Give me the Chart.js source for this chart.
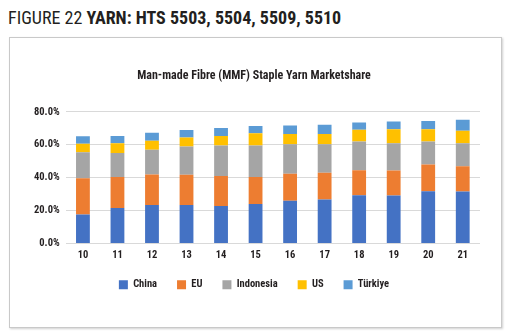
<!DOCTYPE html>
<html>
<head>
<meta charset="utf-8">
<script src="https://cdn.jsdelivr.net/npm/chart.js@4"></script>
<style>
  body { margin: 0; background: #fff; width: 509px; height: 335px; overflow: hidden; }
  #heading {
    position: absolute; left: 8px; top: 7px;
    font-family: "Roboto Condensed", sans-serif;
    font-size: 18px; color: #231f20; white-space: nowrap;
  }
  #heading b { font-weight: bold; }
  #box {
    position: absolute; left: 9px; top: 37px; width: 491px; height: 289px;
    border: 1px solid #c9c9c9; box-shadow: 1px 1px 2px #d0d0d0;
  }
</style>
</head>
<body>
<div id="heading">FIGURE 22 <b>YARN: HTS 5503, 5504, 5509, 5510</b></div>
<div id="box"><canvas id="myChart1"></canvas></div>
<script>
const years = ["10", "11", "12", "13", "14", "15", "16", "17", "18", "19", "20", "21"];
const china = [17.6, 21.6, 23.4, 23.4, 22.8, 24.0, 26.0, 26.8, 29.4, 29.2, 31.8, 31.6];
const eu = [22.0, 18.8, 18.6, 18.4, 18.2, 16.4, 16.4, 16.2, 15.2, 15.2, 16.2, 15.4];
const indonesia = [15.8, 14.6, 15.0, 17.2, 18.6, 19.2, 18.0, 17.4, 17.4, 16.6, 14.0, 14.0];
const us = [5.2, 6.0, 5.4, 5.4, 5.8, 7.4, 6.2, 6.2, 7.2, 8.4, 7.4, 7.6];
const turkiye = [4.6, 4.4, 5.0, 4.6, 4.8, 4.4, 5.2, 5.6, 4.4, 4.8, 5.0, 6.6];
const yTicks = [0, 20, 40, 60, 80];

const font = "'Roboto Condensed', sans-serif";

function series(label, data, color) {
  return {
    label: label,
    data: data,
    backgroundColor: color,
    barPercentage: 0.5,
    categoryPercentage: 0.8
  };
}

new Chart("myChart1", {
  type: "bar",
  data: {
    labels: years,
    datasets: [
      series("China", china, "#4472C4"),
      series("EU", eu, "#ED7D31"),
      series("Indonesia", indonesia, "#A5A5A5"),
      series("US", us, "#FFC000"),
      series("Türkiye", turkiye, "#5B9BD5")
    ]
  },
  options: {
    responsive: true,
    maintainAspectRatio: false,
    animation: false,
    layout: {padding: {left: 18, right: 21, top: 0, bottom: 27}},
    plugins: {
      title: {
        display: true,
        text: "Man-made Fibre (MMF) Staple Yarn Marketshare",
        color: "#231f20",
        font: {family: font, size: 12, weight: "bold"},
        padding: {top: 31, bottom: 28.5}
      },
      legend: {
        position: "bottom",
        labels: {
          boxWidth: 9,
          boxHeight: 9,
          padding: 20,
          color: "#231f20",
          font: {family: font, size: 10.5, weight: "bold"}
        }
      },
      tooltip: {enabled: false}
    },
    scales: {
      x: {
        stacked: true,
        grid: {display: false, drawTicks: false},
        border: {display: false},
        ticks: {padding: 6, color: "#231f20", font: {family: font, size: 10.5, weight: "bold"}},
        afterFit: function(axis) { axis.height = 16; }
      },
      y: {
        stacked: true,
        min: 0,
        max: 80,
        afterBuildTicks: function(axis) {
          axis.ticks = yTicks.map(function(v) { return {value: v}; });
        },
        grid: {color: "#d9d9d9", drawTicks: false},
        border: {display: false},
        ticks: {
          padding: 6,
          color: "#231f20",
          font: {family: font, size: 10.5, weight: "bold"},
          callback: function(v) { return v.toFixed(1) + "%"; }
        }
      }
    }
  }
});
</script>
</body>
</html>
